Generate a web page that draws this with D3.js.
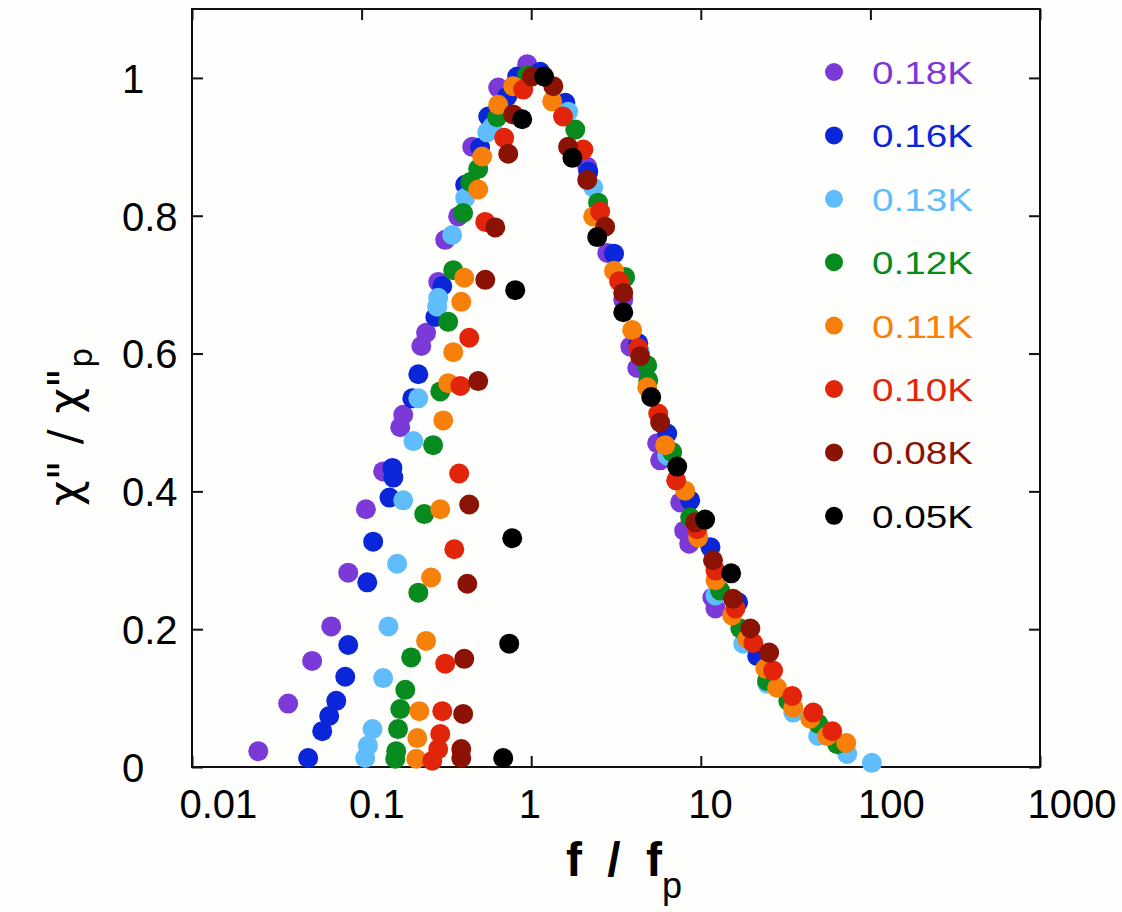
<!DOCTYPE html>
<html>
<head>
<meta charset="utf-8">
<script src="https://cdn.jsdelivr.net/npm/d3@7"></script>
<style>
  html, body { margin: 0; padding: 0; background: #fefefc; }
  svg { display: block; font-family: "Liberation Sans", Arial, Helvetica, sans-serif; }
</style>
</head>
<body>
<div id="chart"></div>
<script>
// tick values
const xTicks = [0.01, 0.1, 1, 10, 100, 1000];
const yTicks = [0, 0.2, 0.4, 0.6, 0.8, 1];

// legend labels, one per temperature
const temps = ["0.18K", "0.16K", "0.13K", "0.12K", "0.11K", "0.10K", "0.08K", "0.05K"];
const colors = ["#7b3ad8", "#0a26d8", "#5fbdfc", "#078a1e", "#f7800a", "#e2250a", "#8b1305", "#000000"];

// [f/fp, chi''/chi''p]
const d018 = [
  [0.0246, 0.023], [0.0369, 0.092], [0.0511, 0.154], [0.0662, 0.204], [0.0834, 0.282],
  [0.106, 0.374], [0.134, 0.429], [0.169, 0.493], [0.176, 0.511], [0.225, 0.611],
  [0.240, 0.630], [0.283, 0.704], [0.311, 0.765], [0.371, 0.799], [0.449, 0.900],
  [0.639, 0.986], [0.947, 1.020], [2.14, 0.871], [2.81, 0.746], [3.49, 0.678],
  [3.84, 0.610], [4.22, 0.579], [5.53, 0.470], [5.76, 0.445], [7.56, 0.384],
  [7.98, 0.343], [8.54, 0.324], [11.7, 0.246], [12.2, 0.230]
];
const d016 = [
  [0.0484, 0.013], [0.0586, 0.052], [0.0644, 0.074], [0.0709, 0.096], [0.0801, 0.131],
  [0.0834, 0.177], [0.108, 0.268], [0.117, 0.327], [0.146, 0.391], [0.152, 0.434],
  [0.154, 0.420], [0.199, 0.535], [0.216, 0.570], [0.272, 0.653], [0.299, 0.698],
  [0.408, 0.845], [0.500, 0.899], [0.558, 0.944], [0.722, 0.973], [0.827, 1.002],
  [1.13, 1.009], [1.59, 0.964], [2.17, 0.864], [3.08, 0.745], [4.28, 0.615],
  [6.34, 0.484], [8.66, 0.387], [11.4, 0.319], [16.6, 0.239], [21.5, 0.161]
];
const d013 = [
  [0.105, 0.013], [0.109, 0.031], [0.116, 0.055], [0.134, 0.129], [0.144, 0.204],
  [0.162, 0.295], [0.176, 0.387], [0.202, 0.473], [0.216, 0.535], [0.279, 0.668],
  [0.283, 0.681], [0.342, 0.772], [0.408, 0.826], [0.550, 0.921], [0.589, 0.929],
  [1.65, 0.951], [2.32, 0.841], [4.39, 0.602], [6.34, 0.452], [12.2, 0.249],
  [17.8, 0.179], [24.6, 0.121], [35.1, 0.079], [49.2, 0.045], [73.0, 0.019], [102, 0.006]
];
const d012 = [
  [0.158, 0.012], [0.160, 0.023], [0.164, 0.055], [0.169, 0.084], [0.181, 0.112],
  [0.196, 0.159], [0.216, 0.253], [0.234, 0.367], [0.264, 0.467], [0.291, 0.545],
  [0.324, 0.646], [0.347, 0.721], [0.397, 0.804], [0.437, 0.849], [0.487, 0.868],
  [0.630, 0.943], [0.947, 1.004], [1.82, 0.925], [2.48, 0.819], [3.58, 0.711],
  [4.83, 0.583], [4.90, 0.561], [6.78, 0.457], [8.66, 0.362], [13.0, 0.256],
  [17.1, 0.201], [24.6, 0.125], [32.8, 0.096], [49.2, 0.063], [63.7, 0.033]
];
const d011 = [
  [0.210, 0.012], [0.213, 0.042], [0.219, 0.081], [0.240, 0.183], [0.257, 0.275],
  [0.291, 0.374], [0.303, 0.503], [0.324, 0.557], [0.347, 0.602], [0.387, 0.675],
  [0.403, 0.710], [0.487, 0.838], [0.514, 0.886], [0.639, 0.961], [0.783, 0.988],
  [1.33, 0.966], [2.32, 0.799], [3.08, 0.720], [3.94, 0.634], [4.83, 0.551],
  [6.17, 0.467], [8.09, 0.401], [9.65, 0.333], [12.2, 0.271], [15.3, 0.220],
  [18.8, 0.186], [24.0, 0.143], [28.2, 0.115], [35.1, 0.086], [44.2, 0.070],
  [55.6, 0.045], [72.0, 0.035]
];
const d010 = [
  [0.261, 0.009], [0.283, 0.026], [0.291, 0.048], [0.299, 0.081], [0.311, 0.150],
  [0.352, 0.316], [0.376, 0.426], [0.382, 0.553], [0.431, 0.623], [0.536, 0.791],
  [0.693, 0.913], [0.897, 0.983], [1.54, 0.944], [2.03, 0.896], [2.55, 0.806],
  [3.30, 0.705], [4.28, 0.608], [5.61, 0.513], [7.16, 0.416], [9.52, 0.345],
  [12.2, 0.285], [16.0, 0.230], [20.4, 0.180], [26.7, 0.140], [34.6, 0.103],
  [46.0, 0.079], [59.5, 0.052]
];
const d008 = [
  [0.387, 0.013], [0.387, 0.026], [0.397, 0.077], [0.403, 0.157], [0.420, 0.266],
  [0.431, 0.381], [0.487, 0.560], [0.536, 0.707], [0.614, 0.783], [0.732, 0.890],
  [0.783, 0.947], [1.01, 1.002], [1.35, 0.988], [1.65, 0.900], [2.14, 0.852],
  [2.73, 0.784], [3.49, 0.688], [4.39, 0.596], [5.76, 0.500], [9.27, 0.355],
  [11.8, 0.300], [15.5, 0.244], [19.6, 0.201], [25.3, 0.166]
];
const d005 = [
  [0.684, 0.013], [0.742, 0.179], [0.773, 0.332], [0.805, 0.692], [0.885, 0.940],
  [1.19, 1.002], [1.75, 0.884], [2.45, 0.769], [3.49, 0.660], [5.10, 0.537],
  [7.26, 0.436], [10.6, 0.359], [15.1, 0.281]
];

const seriesData = [d018, d016, d013, d012, d011, d010, d008, d005];

const width = 1122, height = 912;
const plot = { left: 192, right: 1040, top: 9, bottom: 767 };

const svg = d3.select("#chart").append("svg")
    .attr("width", width)
    .attr("height", height)
    .style("background", "#fefefc");

const x = d3.scaleLog().domain([0.01, 1000]).range([plot.left, plot.right]);
const y = d3.scaleLinear().domain([0, 1.1]).range([plot.bottom, plot.top]);

// axes, ticks pointing inward
const gx = svg.append("g")
    .attr("transform", `translate(0,${plot.bottom})`)
    .call(d3.axisBottom(x).tickValues(xTicks).tickFormat(d3.format("~g"))
        .tickSizeInner(-11).tickSizeOuter(0).tickPadding(0));
gx.selectAll("text")
    .attr("x", -13)
    .attr("y", 51)
    .attr("dy", null)
    .attr("text-anchor", "start");

const gy = svg.append("g")
    .attr("transform", `translate(${plot.left},0)`)
    .call(d3.axisLeft(y).tickValues(yTicks).tickFormat(d3.format("~g"))
        .tickSizeInner(-11).tickSizeOuter(0));
gy.selectAll("text")
    .attr("x", 122 - plot.left)
    .attr("dy", "0.36em")
    .attr("text-anchor", "start");

svg.append("g")
    .attr("transform", `translate(0,${plot.top})`)
    .call(d3.axisTop(x).tickValues(xTicks).tickFormat("").tickSizeInner(-11).tickSizeOuter(0));
svg.append("g")
    .attr("transform", `translate(${plot.right},0)`)
    .call(d3.axisRight(y).tickValues(yTicks).tickFormat("").tickSizeInner(-11).tickSizeOuter(0));

svg.selectAll(".domain").remove();
svg.selectAll(".tick line").attr("stroke", "#111").attr("stroke-width", 2);
svg.selectAll(".tick text")
    .attr("fill", "#000")
    .style("font-size", "40px")
    .style("font-family", "\"Liberation Sans\", Arial, sans-serif");

svg.append("rect")
    .attr("x", plot.left)
    .attr("y", plot.top)
    .attr("width", plot.right - plot.left)
    .attr("height", plot.bottom - plot.top)
    .attr("fill", "none")
    .attr("stroke", "#111")
    .attr("stroke-width", 2);

// data points, first series at the back
const marks = svg.append("g");
seriesData.forEach((data, i) => {
    marks.append("g")
        .attr("fill", colors[i])
        .selectAll("circle")
        .data(data)
        .join("circle")
            .attr("cx", d => x(d[0]))
            .attr("cy", d => y(d[1]))
            .attr("r", 10);
});

// legend
const legend = svg.append("g").attr("transform", "translate(834,72)");
const row = legend.selectAll("g")
    .data(temps)
    .join("g")
        .attr("transform", (d, i) => `translate(0,${i * 63.4})`);
row.append("circle")
    .attr("r", 9)
    .attr("fill", (d, i) => colors[i]);
row.append("text")
    .attr("x", 38)
    .attr("y", 12)
    .attr("fill", (d, i) => colors[i])
    .attr("textLength", 101)
    .attr("lengthAdjust", "spacingAndGlyphs")
    .style("font-size", "32px")
    .text(d => d);

// axis titles
const xt = svg.append("text")
    .attr("x", 566)
    .attr("y", 876)
    .style("font-size", "48px")
    .style("font-weight", "bold")
    .style("word-spacing", "12px")
    .attr("fill", "#000");
xt.append("tspan").text("f / f");
xt.append("tspan").attr("dy", 22).style("font-size", "36px").style("font-weight", "normal").text("p");

const yt = svg.append("text")
    .attr("transform", "translate(80,506) rotate(-90)")
    .style("font-family", "\"DejaVu Sans\", sans-serif")
    .style("font-size", "44px")
    .style("word-spacing", "2px")
    .attr("fill", "#000");
yt.append("tspan").text("\u03c7\" / \u03c7\"");
yt.append("tspan").attr("dy", 12).style("font-size", "32px").text("p");
</script>
</body>
</html>
